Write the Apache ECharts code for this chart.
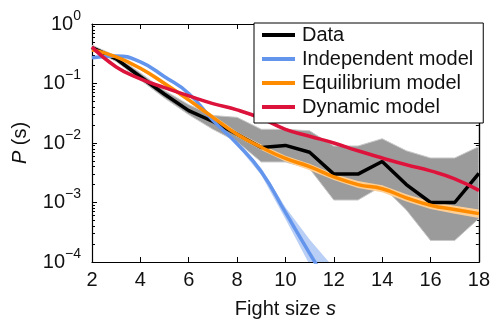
<!DOCTYPE html>
<html>
<head>
<meta charset="utf-8">
<script src="https://cdn.jsdelivr.net/npm/echarts@6/dist/echarts.min.js"></script>
<style>
  html, body { margin: 0; padding: 0; background: #fff; }
  #chart { width: 493px; height: 324px; }
</style>
</head>
<body>
<div id="chart"></div>
<script>
// fight size s
const sizes = [2, 3, 4, 5, 6, 7, 8, 9, 10, 11, 12, 13, 14, 15, 16, 17, 18];

// data with its confidence band
const dataP  = [0.40, 0.26, 0.13, 0.066, 0.035, 0.023, 0.014, 0.0084, 0.0091, 0.007, 0.003, 0.003, 0.0049, 0.002, 0.001, 0.001, 0.0031];
const dataLo = [0.37, 0.235, 0.115, 0.057, 0.030, 0.017, 0.0105, 0.0048, 0.0048, 0.0037, 0.0011, 0.0011, 0.0019, 0.00075, 0.00023, 0.00023, 0.00054];
const dataHi = [0.44, 0.29, 0.15, 0.076, 0.044, 0.029, 0.027, 0.017, 0.017, 0.016, 0.0089, 0.0089, 0.0118, 0.0074, 0.0056, 0.0056, 0.0087];

// independent model (x = 2..12)
const indepP  = [0.27, 0.29, 0.23, 0.13, 0.068, 0.024, 0.0097, 0.0033, 0.00068, 0.00014, 0.00003];
const indepLo = [0.265, 0.285, 0.225, 0.126, 0.066, 0.0232, 0.0091, 0.0029, 0.00053, 0.00009, 0.000012];
const indepHi = [0.275, 0.295, 0.235, 0.134, 0.070, 0.0248, 0.0104, 0.0038, 0.00083, 0.00024, 0.00008];

// equilibrium model
const equilP  = [0.37, 0.28, 0.18, 0.10, 0.053, 0.027, 0.014, 0.0085, 0.0055, 0.004, 0.0027, 0.002, 0.0017, 0.0012, 0.0009, 0.00076, 0.00065];
const equilLo = [0.35, 0.265, 0.168, 0.093, 0.049, 0.0245, 0.0127, 0.0076, 0.0049, 0.0035, 0.0024, 0.00175, 0.00148, 0.00104, 0.00078, 0.00065, 0.00055];
const equilHi = [0.39, 0.295, 0.19, 0.107, 0.057, 0.0295, 0.0153, 0.0094, 0.0061, 0.0045, 0.003, 0.0023, 0.00195, 0.00138, 0.00104, 0.00088, 0.00076];

// dynamic model
const dynP  = [0.41, 0.19, 0.12, 0.085, 0.062, 0.046, 0.036, 0.026, 0.017, 0.013, 0.010, 0.0074, 0.0056, 0.0043, 0.0034, 0.0025, 0.0016];
const dynLo = [0.395, 0.182, 0.115, 0.081, 0.059, 0.044, 0.0342, 0.0247, 0.0161, 0.0123, 0.0095, 0.007, 0.0053, 0.0040, 0.0032, 0.00235, 0.0015];
const dynHi = [0.425, 0.198, 0.125, 0.089, 0.065, 0.048, 0.0378, 0.0273, 0.0179, 0.0137, 0.0105, 0.0078, 0.0059, 0.0046, 0.0036, 0.00265, 0.0017];

const yMajor = [0.0001, 0.001, 0.01, 0.1, 1];

const FONT = 'Liberation Sans, Arial, sans-serif';

// minor log ticks 2..9 in every decade
const yMinor = [];
yMajor.slice(0, -1).forEach((d) => {
  for (let k = 2; k <= 9; k++) yMinor.push(+(d * k).toPrecision(3));
});

function pairs(ys) {
  return ys.map((y, i) => [sizes[i], y]);
}

// shaded band drawn as one polygon through the axes' own scales
function band(lo, hi, fill, edge) {
  return {
    type: 'custom',
    coordinateSystem: 'cartesian2d',
    silent: true,
    clip: true,
    data: lo.map((v, i) => [sizes[i], v, hi[i]]),
    encode: { x: 0, y: [1, 2] },
    renderItem: (params, api) => {
      if (params.dataIndex !== 0) return null;
      const top = hi.map((v, i) => api.coord([sizes[i], v]));
      const bot = lo.map((v, i) => api.coord([sizes[i], v])).reverse();
      return {
        type: 'polygon',
        shape: { points: top.concat(bot) },
        style: { fill: fill, stroke: edge || null, lineWidth: edge ? 1 : 0 },
      };
    },
  };
}

function curve(name, ys, color, smooth) {
  return {
    type: 'line', name: name, data: pairs(ys), symbol: 'none',
    smooth: smooth,
    lineStyle: { color: color, width: 3.5 },
    itemStyle: { color: color },
  };
}

function yAxis(pos, ticks, len, labels) {
  return {
    type: 'log', logBase: 10, min: 0.0001, max: 1, position: pos,
    axisLine: { show: !!labels || pos === 'right', lineStyle: { color: '#000', width: 1.2 } },
    axisTick: { show: true, inside: true, length: len, customValues: ticks, lineStyle: { color: '#000', width: 1 } },
    axisLabel: labels ? {
      show: true, margin: 11, customValues: yMajor, color: '#111', fontFamily: FONT,
      formatter: (v) => {
        const e = Math.round(Math.log10(v));
        return '{b|10}{s|' + (e < 0 ? '\u2212' + (-e) : e) + '}';
      },
      rich: {
        b: { fontSize: 20, fontFamily: FONT, color: '#111' },
        s: { fontSize: 14, fontFamily: FONT, color: '#111', padding: [0, 0, 16, 0] },
      },
    } : { show: false },
    splitLine: { show: false },
    name: labels ? '{i|P} (s)' : '',
    nameLocation: 'middle',
    nameGap: 62,
    nameTextStyle: {
      fontSize: 20, fontFamily: FONT, color: '#111',
      rich: { i: { fontSize: 20, fontFamily: FONT, fontStyle: 'italic', color: '#111' } },
    },
  };
}

function xAxis(pos, labels) {
  return {
    type: 'value', min: 2, max: 18, interval: 2, position: pos,
    axisLine: { show: true, onZero: false, lineStyle: { color: '#000', width: 1.2 } },
    axisTick: { show: true, inside: true, length: 5, lineStyle: { color: '#000' } },
    axisLabel: labels ? { show: true, margin: 8, fontSize: 20, fontFamily: FONT, color: '#111' } : { show: false },
    splitLine: { show: false },
    name: labels ? 'Fight size {i|s}' : '',
    nameLocation: 'middle',
    nameGap: 37,
    nameTextStyle: {
      fontSize: 20, fontFamily: FONT, color: '#111',
      rich: { i: { fontSize: 20, fontFamily: FONT, fontStyle: 'italic', color: '#111' } },
    },
  };
}

const chart = echarts.init(document.getElementById('chart'), null, { renderer: 'canvas' });

chart.setOption({
  animation: false,
  backgroundColor: '#fff',
  textStyle: { fontFamily: FONT },
  grid: { left: 92, right: 12, top: 24, bottom: 54, containLabel: false },
  xAxis: [xAxis('bottom', true), xAxis('top', false)],
  yAxis: [
    yAxis('left', yMajor, 5, true),
    yAxis('left', yMinor, 3, false),
    yAxis('right', yMajor, 5, false),
    yAxis('right', yMinor, 3, false),
  ],
  legend: {
    data: ['Data', 'Independent model', 'Equilibrium model', 'Dynamic model'],
    orient: 'vertical',
    left: 254,
    top: 23,
    padding: [2, 10, 6, 8],
    itemGap: 4,
    itemWidth: 33,
    itemHeight: 4,
    icon: 'rect',
    borderColor: '#000',
    borderWidth: 1,
    borderRadius: 0,
    backgroundColor: '#fff',
    selectedMode: false,
    textStyle: { fontSize: 20, fontFamily: FONT, color: '#111', padding: [0, 0, 0, 2] },
  },
  series: [
    band(dataLo, dataHi, '#9b9b9b', '#c8c8c8'),
    curve('Data', dataP, '#000', false),
    band(indepLo, indepHi, '#b9cff5', null),
    curve('Independent model', indepP, '#6495ed', true),
    band(equilLo, equilHi, '#ffcf94', null),
    curve('Equilibrium model', equilP, '#ff8c00', true),
    band(dynLo, dynHi, '#f08aa0', null),
    curve('Dynamic model', dynP, '#dc143c', true),
  ],
});
</script>
</body>
</html>
